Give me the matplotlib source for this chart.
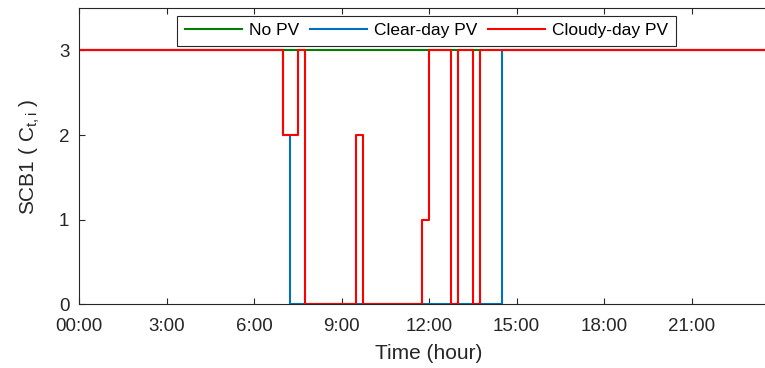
import matplotlib.pyplot as plt

plt.rcParams['font.family'] = ['Liberation Sans', 'DejaVu Sans']

# switching state of SCB1 over the day (hour of change, level held after it)
no_pv_t = [0, 24]
no_pv_v = [3, 3]

clear_t = [0, 7.0, 7.25, 14.5, 24]
clear_v = [3, 2, 0, 3, 3]

cloudy_t = [0, 7.0, 7.5, 7.75, 9.5, 9.75, 11.75, 12.0, 12.75, 13.0, 13.5, 13.75, 24]
cloudy_v = [3, 2, 3, 0, 2, 0, 1, 3, 0, 3, 0, 3, 3]

xticks = [0, 3, 6, 9, 12, 15, 18, 21]
xtick_labels = ['00:00', '3:00', '6:00', '9:00', '12:00', '15:00', '18:00', '21:00']

fig = plt.figure(figsize=(7.65, 3.68), dpi=100)
ax = fig.add_axes([0.1033, 0.173, 0.915, 0.805])

ax.step(no_pv_t, no_pv_v, where='post', color='#008000', lw=1.5, label='No PV')
ax.step(clear_t, clear_v, where='post', color='#0072BD', lw=1.5, label='Clear-day PV')
ax.step(cloudy_t, cloudy_v, where='post', color='#FF0000', lw=1.5, label='Cloudy-day PV')

ax.set_xlim(0, 24)
ax.set_ylim(0, 3.5)
ax.set_xticks(xticks)
ax.set_xticklabels(xtick_labels)
ax.set_yticks([0, 1, 2, 3])

ax.set_xlabel('Time (hour)', fontsize=15, color='#262626', labelpad=6)
ax.set_ylabel('SCB1 ( C$_{\\mathregular{t,i}}$ )', fontsize=15, color='#262626', labelpad=12)

for s in ax.spines.values():
    s.set_color('#262626')
    s.set_linewidth(0.8)
ax.tick_params(direction='in', length=4, width=0.8, top=True, right=True,
               labelsize=13.5, colors='#262626')
ax.tick_params(axis='x', pad=10)
ax.tick_params(axis='y', pad=7)

leg = ax.legend(loc='upper center', ncol=3, fontsize=12.5, frameon=True, fancybox=False,
                edgecolor='#262626', framealpha=1, borderpad=0.45, handlelength=3.3,
                columnspacing=0.6, handletextpad=0.4, borderaxespad=0,
                bbox_to_anchor=(0.4965, 0.975))
leg.get_frame().set_linewidth(0.8)

fig.savefig('out.png', dpi=100)
